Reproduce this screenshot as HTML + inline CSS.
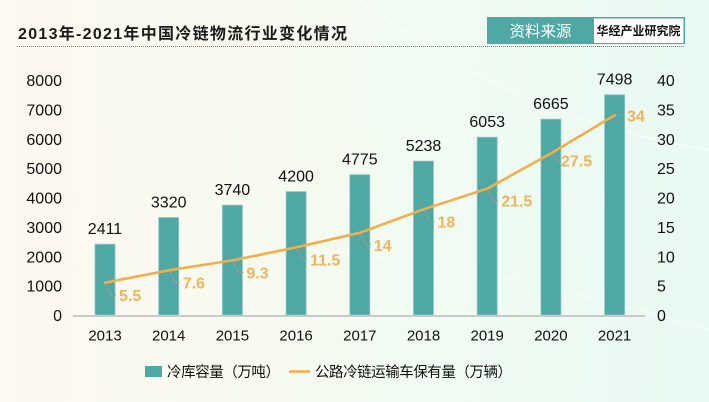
<!DOCTYPE html>
<html>
<head>
<meta charset="utf-8">
<style>
html,body{margin:0;padding:0;}
body{width:709px;height:402px;overflow:hidden;background:linear-gradient(90deg,#fdf8f0 0%,#f7faef 35%,#f1fbf2 60%,#e7faf3 100%);}
svg{display:block;}
text{font-family:"Liberation Sans","Noto Sans CJK SC",sans-serif;}
</style>
</head>
<body>
<svg width="709" height="402" viewBox="0 0 709 402" xmlns="http://www.w3.org/2000/svg">
  <!-- faint background arcs -->
  <path d="M360 0 Q520 120 709 150" fill="none" stroke="#ffffff" stroke-width="1.5" opacity="0.6"/>
  <path d="M0 300 Q200 180 709 330" fill="none" stroke="#ffffff" stroke-width="1.2" opacity="0.5"/>
  <line x1="0" y1="200" x2="709" y2="200" stroke="#ffffff" stroke-width="1" opacity="0.5"/>

  <!-- Title -->
  <text x="18" y="39" font-size="16" font-weight="bold" textLength="329" lengthAdjust="spacing" fill="#1a1a1a">2013年-2021年中国冷链物流行业变化情况</text>
  <line x1="17" y1="46.5" x2="685" y2="46.5" stroke="#777" stroke-width="1" stroke-dasharray="1,1"/>

  <!-- Source box -->
  <rect x="487" y="17" width="198" height="27" fill="#4fa8a3"/>
  <rect x="594" y="18.5" width="89.5" height="24.5" fill="#ffffff"/>
  <text x="540.5" y="36.5" font-size="15.5" fill="#ffffff" text-anchor="middle">资料来源</text>
  <text x="638.5" y="35" font-size="12" font-weight="bold" fill="#111" text-anchor="middle">华经产业研究院</text>

  <!-- Left axis labels -->
  <g font-size="16" fill="#111" text-anchor="end">
    <text x="62" y="321">0</text>
    <text x="62" y="291.6">1000</text>
    <text x="62" y="262.3">2000</text>
    <text x="62" y="232.9">3000</text>
    <text x="62" y="203.5">4000</text>
    <text x="62" y="174.1">5000</text>
    <text x="62" y="144.8">6000</text>
    <text x="62" y="115.4">7000</text>
    <text x="62" y="86">8000</text>
  </g>
  <!-- Right axis labels -->
  <g font-size="16" fill="#111" text-anchor="start">
    <text x="657" y="321">0</text>
    <text x="657" y="291.6">5</text>
    <text x="657" y="262.3">10</text>
    <text x="657" y="232.9">15</text>
    <text x="657" y="203.5">20</text>
    <text x="657" y="174.1">25</text>
    <text x="657" y="144.8">30</text>
    <text x="657" y="115.4">35</text>
    <text x="657" y="86">40</text>
  </g>

  <!-- Bars -->
  <g fill="#4fa8a3" stroke="#8cc7c2" stroke-width="0.8">
    <rect x="95" y="244.2" width="20" height="70.8"/>
    <rect x="158.7" y="217.5" width="20" height="97.5"/>
    <rect x="222.4" y="205.1" width="20" height="109.9"/>
    <rect x="286.1" y="191.6" width="20" height="123.4"/>
    <rect x="349.8" y="174.7" width="20" height="140.3"/>
    <rect x="413.5" y="161.1" width="20" height="153.9"/>
    <rect x="477.2" y="137.2" width="20" height="177.8"/>
    <rect x="540.9" y="119.2" width="20" height="195.8"/>
    <rect x="604.6" y="94.8" width="20" height="220.2"/>
  </g>

  <!-- Axis line -->
  <line x1="73" y1="316" x2="645" y2="316" stroke="#c9c9c9" stroke-width="2"/>

  <!-- Bar value labels -->
  <g font-size="16" fill="#111" text-anchor="middle">
    <text x="105" y="234">2411</text>
    <text x="168.7" y="207.5">3320</text>
    <text x="232.4" y="195">3740</text>
    <text x="296.1" y="181.5">4200</text>
    <text x="359.8" y="164.7">4775</text>
    <text x="423.5" y="151">5238</text>
    <text x="487.2" y="127">6053</text>
    <text x="550.9" y="109">6665</text>
    <text x="614.6" y="84.7">7498</text>
  </g>

  <!-- Leader lines -->
  <g fill="none" stroke="#9a9a9a" stroke-width="1">
    <polyline points="105,282.7 111,295 116,295"/>
    <polyline points="168.7,270.3 174.7,282.3 179.7,282.3"/>
    <polyline points="232.4,260.4 238.4,272.4 243.4,272.4"/>
    <polyline points="296.1,247.4 302.1,259.4 307.1,259.4"/>
    <polyline points="359.8,232.8 365.8,244.8 370.8,244.8"/>
    <polyline points="423.5,209.3 429.5,221.3 434.5,221.3"/>
    <polyline points="487.2,188.7 493.2,200.7 498.2,200.7"/>
    <polyline points="550.9,153.4 556.9,160.4 559.9,160.4"/>
    <polyline points="614.6,115.3 625,115.3"/>
  </g>

  <!-- Line series -->
  <polyline fill="none" stroke="#f2ae4c" stroke-width="2.6" stroke-linejoin="round" stroke-linecap="round"
    points="105,282.7 168.7,270.3 232.4,260.4 296.1,247.4 359.8,232.8 423.5,209.3 487.2,188.7 550.9,153.4 614.6,115.3"/>

  <!-- Line value labels -->
  <g font-size="16" fill="#f0b35e" font-weight="bold">
    <text x="119" y="301">5.5</text>
    <text x="182.7" y="288.3">7.6</text>
    <text x="246.4" y="278.4">9.3</text>
    <text x="310.1" y="265.4">11.5</text>
    <text x="373.8" y="250.8">14</text>
    <text x="437.5" y="227.3">18</text>
    <text x="501.2" y="206.7">21.5</text>
    <text x="561" y="166.4">27.5</text>
    <text x="627" y="121.3">34</text>
  </g>

  <!-- X axis labels -->
  <g font-size="15" fill="#111" text-anchor="middle">
    <text x="105" y="340.5">2013</text>
    <text x="168.7" y="340.5">2014</text>
    <text x="232.4" y="340.5">2015</text>
    <text x="296.1" y="340.5">2016</text>
    <text x="359.8" y="340.5">2017</text>
    <text x="423.5" y="340.5">2018</text>
    <text x="487.2" y="340.5">2019</text>
    <text x="550.9" y="340.5">2020</text>
    <text x="614.6" y="340.5">2021</text>
  </g>

  <!-- Legend -->
  <rect x="145" y="366" width="17" height="11" fill="#4fa8a3"/>
  <text x="167" y="377" font-size="14.5" fill="#111" textLength="113" lengthAdjust="spacing">冷库容量（万吨）</text>
  <line x1="289" y1="371.5" x2="310" y2="371.5" stroke="#f2ae4c" stroke-width="2.6"/>
  <text x="315" y="377" font-size="14.5" fill="#111" textLength="197" lengthAdjust="spacing">公路冷链运输车保有量（万辆）</text>
</svg>
</body>
</html>
